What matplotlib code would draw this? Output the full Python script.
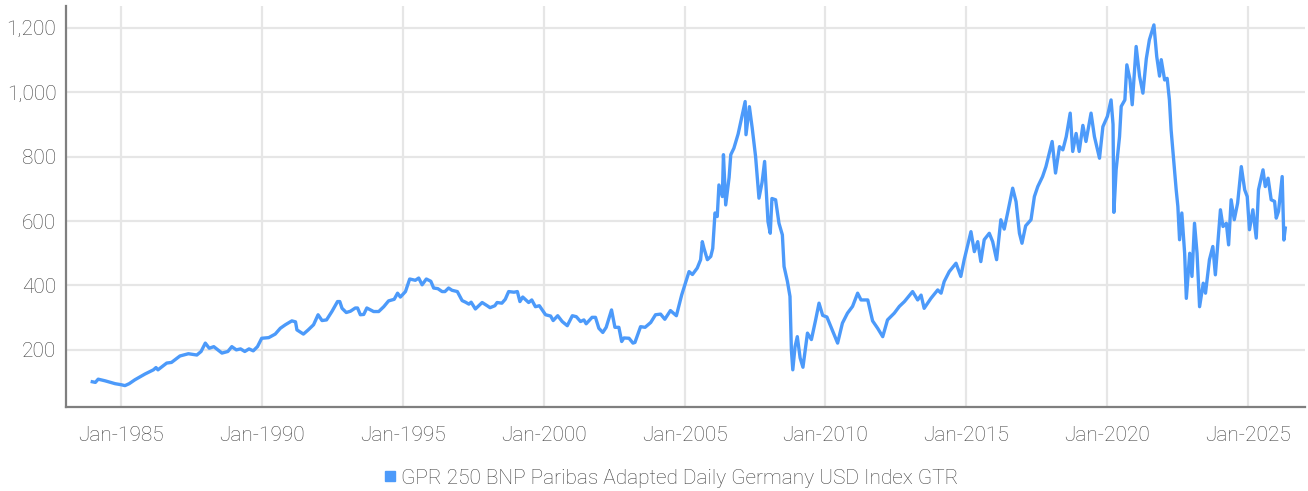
import numpy as np
import matplotlib
matplotlib.use("Agg")
import matplotlib.pyplot as plt
from matplotlib.lines import Line2D

# decimal year / index level
years = [
    1983.99, 1984.10, 1984.20, 1984.44, 1984.80, 1985.00, 1985.15, 1985.30, 1985.50, 1985.86,
    1986.16, 1986.25, 1986.32, 1986.63, 1986.80, 1987.10, 1987.40, 1987.70, 1987.85, 1988.00,
    1988.14, 1988.30, 1988.59, 1988.80, 1988.94, 1989.10, 1989.25, 1989.40, 1989.55, 1989.70,
    1989.85, 1990.00, 1990.25, 1990.48, 1990.66, 1990.84, 1991.07, 1991.20, 1991.25, 1991.48,
    1991.65, 1991.84, 1992.00, 1992.14, 1992.30, 1992.49, 1992.69, 1992.77, 1992.85, 1993.00,
    1993.15, 1993.32, 1993.40, 1993.50, 1993.62, 1993.73, 1993.97, 1994.15, 1994.33, 1994.50,
    1994.70, 1994.82, 1994.92, 1995.10, 1995.25, 1995.45, 1995.57, 1995.69, 1995.84, 1996.00,
    1996.10, 1996.25, 1996.40, 1996.50, 1996.63, 1996.75, 1996.94, 1997.11, 1997.23, 1997.35,
    1997.43, 1997.58, 1997.82, 1998.00, 1998.10, 1998.27, 1998.35, 1998.52, 1998.64, 1998.76,
    1998.95, 1999.07, 1999.16, 1999.26, 1999.47, 1999.58, 1999.71, 1999.85, 2000.07, 2000.25,
    2000.34, 2000.50, 2000.66, 2000.84, 2001.02, 2001.16, 2001.31, 2001.43, 2001.51, 2001.72,
    2001.84, 2001.96, 2002.10, 2002.22, 2002.41, 2002.53, 2002.67, 2002.77, 2002.85, 2003.03,
    2003.17, 2003.24, 2003.44, 2003.60, 2003.80, 2003.97, 2004.15, 2004.30, 2004.50, 2004.71,
    2004.90, 2005.16, 2005.28, 2005.45, 2005.57, 2005.63, 2005.69, 2005.81, 2005.93, 2006.00,
    2006.08, 2006.16, 2006.22, 2006.34, 2006.38, 2006.46, 2006.58, 2006.64, 2006.75, 2006.90,
    2007.05, 2007.15, 2007.18, 2007.30, 2007.40, 2007.52, 2007.64, 2007.75, 2007.84, 2007.96,
    2008.04, 2008.10, 2008.23, 2008.35, 2008.47, 2008.53, 2008.65, 2008.74, 2008.79, 2008.84,
    2008.92, 2009.00, 2009.10, 2009.20, 2009.36, 2009.50, 2009.65, 2009.77, 2009.90, 2010.05,
    2010.19, 2010.43, 2010.60, 2010.78, 2010.96, 2011.14, 2011.26, 2011.50, 2011.67, 2011.85,
    2012.03, 2012.20, 2012.44, 2012.62, 2012.80, 2013.09, 2013.27, 2013.39, 2013.50, 2013.74,
    2013.98, 2014.10, 2014.21, 2014.39, 2014.63, 2014.80, 2014.92, 2015.16, 2015.28, 2015.40,
    2015.51, 2015.63, 2015.81, 2015.93, 2016.07, 2016.22, 2016.34, 2016.46, 2016.64, 2016.76,
    2016.88, 2016.97, 2017.10, 2017.29, 2017.41, 2017.53, 2017.70, 2017.82, 2018.04, 2018.16,
    2018.30, 2018.42, 2018.54, 2018.68, 2018.77, 2018.89, 2019.00, 2019.13, 2019.24, 2019.42,
    2019.54, 2019.72, 2019.84, 2020.00, 2020.13, 2020.20, 2020.23, 2020.31, 2020.43, 2020.49,
    2020.62, 2020.69, 2020.80, 2020.88, 2021.02, 2021.14, 2021.26, 2021.38, 2021.49, 2021.65,
    2021.75, 2021.85, 2021.91, 2022.03, 2022.12, 2022.20, 2022.26, 2022.38, 2022.44, 2022.50,
    2022.56, 2022.64, 2022.74, 2022.80, 2022.92, 2023.00, 2023.09, 2023.18, 2023.27, 2023.40,
    2023.48, 2023.62, 2023.74, 2023.83, 2024.01, 2024.10, 2024.22, 2024.30, 2024.39, 2024.50,
    2024.62, 2024.75, 2024.87, 2024.96, 2025.04, 2025.16, 2025.28, 2025.36, 2025.52, 2025.60,
    2025.70, 2025.81, 2025.93, 2025.99, 2026.07, 2026.20, 2026.26, 2026.31,
]
index_level = [
    101, 99, 109, 104, 95, 92, 89, 95, 107, 125,
    138, 145, 138, 159, 161, 181, 188, 184, 195, 221,
    205, 210, 190, 195, 210, 200, 203, 195, 203, 197,
    210, 236, 238, 249, 267, 278, 290, 287, 262, 249,
    262, 278, 309, 291, 293, 319, 350, 350, 329, 316,
    320, 330, 330, 309, 310, 330, 319, 319, 334, 352,
    357, 376, 364, 381, 420, 416, 423, 402, 420, 413,
    392, 390, 381, 381, 392, 385, 381, 353, 348, 342,
    348, 327, 347, 337, 331, 337, 347, 345, 357, 381,
    379, 381, 350, 364, 347, 355, 334, 337, 309, 305,
    291, 306, 288, 275, 306, 303, 288, 293, 281, 301,
    301, 267, 254, 270, 324, 270, 270, 226, 237, 236,
    221, 223, 272, 270, 285, 309, 311, 295, 322, 306,
    371, 443, 434, 454, 480, 536, 515, 480, 490, 515,
    625, 614, 712, 676, 806, 650, 735, 806, 826, 870,
    930, 971, 868, 955, 889, 800, 671, 720, 785, 598,
    562, 670, 666, 593, 557, 459, 412, 366, 200, 138,
    210, 241, 175, 146, 252, 232, 293, 345, 307, 302,
    272, 221, 283, 314, 335, 376, 355, 355, 290, 267,
    241, 293, 314, 335, 350, 381, 355, 370, 329, 360,
    386, 376, 412, 443, 469, 428, 480, 567, 505, 536,
    474, 542, 562, 536, 480, 604, 575, 625, 702, 660,
    562, 531, 585, 604, 676, 707, 738, 769, 847, 749,
    831, 821, 862, 935, 816, 872, 816, 897, 847, 935,
    862, 795, 893, 925, 976, 900, 627, 759, 862, 956,
    976, 1085, 1040, 961, 1142, 1050, 997, 1104, 1163, 1209,
    1111, 1050, 1101, 1038, 1043, 976, 883, 759, 697, 645,
    542, 625, 500, 360, 500, 428, 593, 500, 334, 407,
    376, 480, 521, 433, 635, 583, 593, 526, 666, 604,
    656, 769, 697, 676, 573, 635, 547, 697, 759, 707,
    733, 666, 661, 609, 630, 738, 541, 578,
]

tick_years = [1985, 1990, 1995, 2000, 2005, 2010, 2015, 2020, 2025]
y_ticks = [200, 400, 600, 800, 1000, 1200]
series_name = "GPR 250 BNP Paribas Adapted Daily Germany USD Index GTR"

line_color = "#4C9AFA"
grid_color = "#E6E6E6"
text_color = "#404040"

plt.rcParams["font.family"] = ["Roboto", "DejaVu Sans"]
plt.rcParams["font.weight"] = "light"

fig = plt.figure(figsize=(13.08, 4.91), dpi=100)
ax = fig.add_axes([0.0505, 0.172, 0.947, 0.816])

ax.plot(years, index_level, color=line_color, lw=2.4, solid_joinstyle="round")

ax.set_xlim(1983.06, 2027.0)
ax.set_ylim(24, 1268)
ax.set_xticks(tick_years)
ax.set_xticklabels(["Jan-" + str(y) for y in tick_years])
ax.set_yticks(y_ticks)
ax.set_yticklabels([f"{v:,}" for v in y_ticks])

ax.grid(True, color=grid_color, lw=1.6)
ax.set_axisbelow(True)
for side in ["top", "right"]:
    ax.spines[side].set_visible(False)
for side in ["left", "bottom"]:
    ax.spines[side].set_color("#7F7F7F")
    ax.spines[side].set_linewidth(1.6)
ax.tick_params(axis="both", length=0, labelsize=15, labelcolor=text_color)
ax.tick_params(axis="y", pad=7)
ax.tick_params(axis="x", pad=14)

handle = Line2D([], [], marker="s", ls="none", color=line_color, markersize=7)
fig.legend([handle], [series_name], loc="center", bbox_to_anchor=(670 / 1308, 1 - 478 / 491),
           frameon=False, fontsize=15, labelcolor=text_color, handletextpad=0.1,
           handlelength=0.8, borderaxespad=0)

fig.savefig("out.png", dpi=100)
